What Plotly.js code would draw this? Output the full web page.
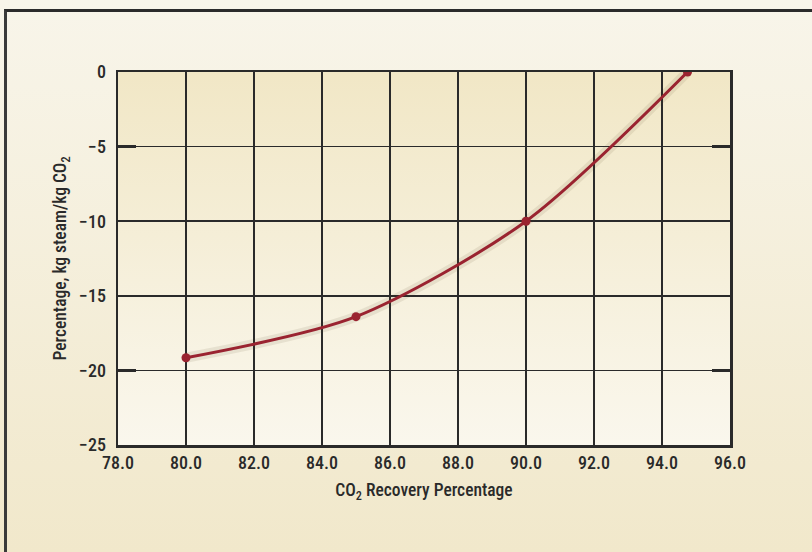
<!DOCTYPE html>
<html><head><meta charset="utf-8">
<script src="https://cdn.plot.ly/plotly-3.0.1.min.js"></script>
<style>
html,body{margin:0;padding:0;}
body{width:812px;height:552px;overflow:hidden;background:linear-gradient(#f8f5ea,#f1e8cb);}
#frame{position:absolute;left:4px;top:9px;width:808px;height:543px;border-top:3px solid #2b2b2b;border-left:3px solid #3a3a3a;box-sizing:border-box;}
#chart{position:absolute;left:0;top:0;width:812px;height:552px;}
</style></head>
<body>
<div id="frame"></div>
<div id="chart"></div>
<script>
const recovery = [80.0, 85.0, 90.0, 94.75];
const steamPct = [-19.15, -16.4, -10.0, 0.0];
const xTicks = [78, 80, 82, 84, 86, 88, 90, 92, 94, 96];
const yTicks = [0, -5, -10, -15, -20, -25];

const font = '"Roboto Condensed", Roboto, sans-serif';
const gradSvg = '<svg xmlns="http://www.w3.org/2000/svg" width="100" height="100" preserveAspectRatio="none"><defs><linearGradient id="g" x1="0" y1="0" x2="0" y2="1"><stop offset="0" stop-color="#f1e7c6"/><stop offset="1" stop-color="#faf7ed"/></linearGradient></defs><rect width="100" height="100" fill="url(#g)"/></svg>';

const traces = [
  {x: recovery, y: steamPct, mode: 'lines', line: {shape: 'spline', smoothing: 0.8, color: 'rgba(90,70,40,0.10)', width: 10}, hoverinfo: 'skip', showlegend: false},
  {x: recovery, y: steamPct, mode: 'lines+markers', line: {shape: 'spline', smoothing: 0.8, color: '#9a2330', width: 3}, marker: {size: 9, color: '#9a2330'}, showlegend: false}
];

const tfont = {family: font, size: 18, color: '#2a2a2a', weight: 500};
const lfont = {family: font, size: 17.5, color: '#2a2a2a', weight: 500};

const axisCommon = {
  showgrid: true, gridcolor: '#2a2a2a', gridwidth: 1.5,
  showline: true, linecolor: '#2a2a2a', linewidth: 2.5, mirror: 'ticks',
  ticks: 'inside', tickwidth: 2.5, tickcolor: '#2a2a2a',
  zeroline: false, tickfont: tfont
};

const layout = {
  width: 812, height: 552,
  margin: {l: 118, r: 82, t: 72, b: 107},
  paper_bgcolor: 'rgba(0,0,0,0)', plot_bgcolor: 'rgba(0,0,0,0)',
  font: tfont,
  images: [{source: 'data:image/svg+xml;charset=utf-8,' + encodeURIComponent(gradSvg), xref: 'paper', yref: 'paper', x: 0, y: 1, sizex: 1, sizey: 1, sizing: 'stretch', layer: 'below', xanchor: 'left', yanchor: 'top'}],
  xaxis: Object.assign({}, axisCommon, {
    range: [78, 96], tickvals: xTicks, tickformat: '.1f', ticklen: 0,
    title: {text: 'CO<sub>2</sub> Recovery Percentage', font: lfont, standoff: 12}
  }),
  yaxis: Object.assign({}, axisCommon, {
    range: [-25, 0], tickvals: yTicks, ticklen: 18, ticklabelstandoff: 6,
    title: {text: 'Percentage, kg steam/kg CO<sub>2</sub>', font: lfont, standoff: 8}
  })
};

Plotly.newPlot('chart', traces, layout, {displayModeBar: false, staticPlot: true});
</script>
</body></html>
